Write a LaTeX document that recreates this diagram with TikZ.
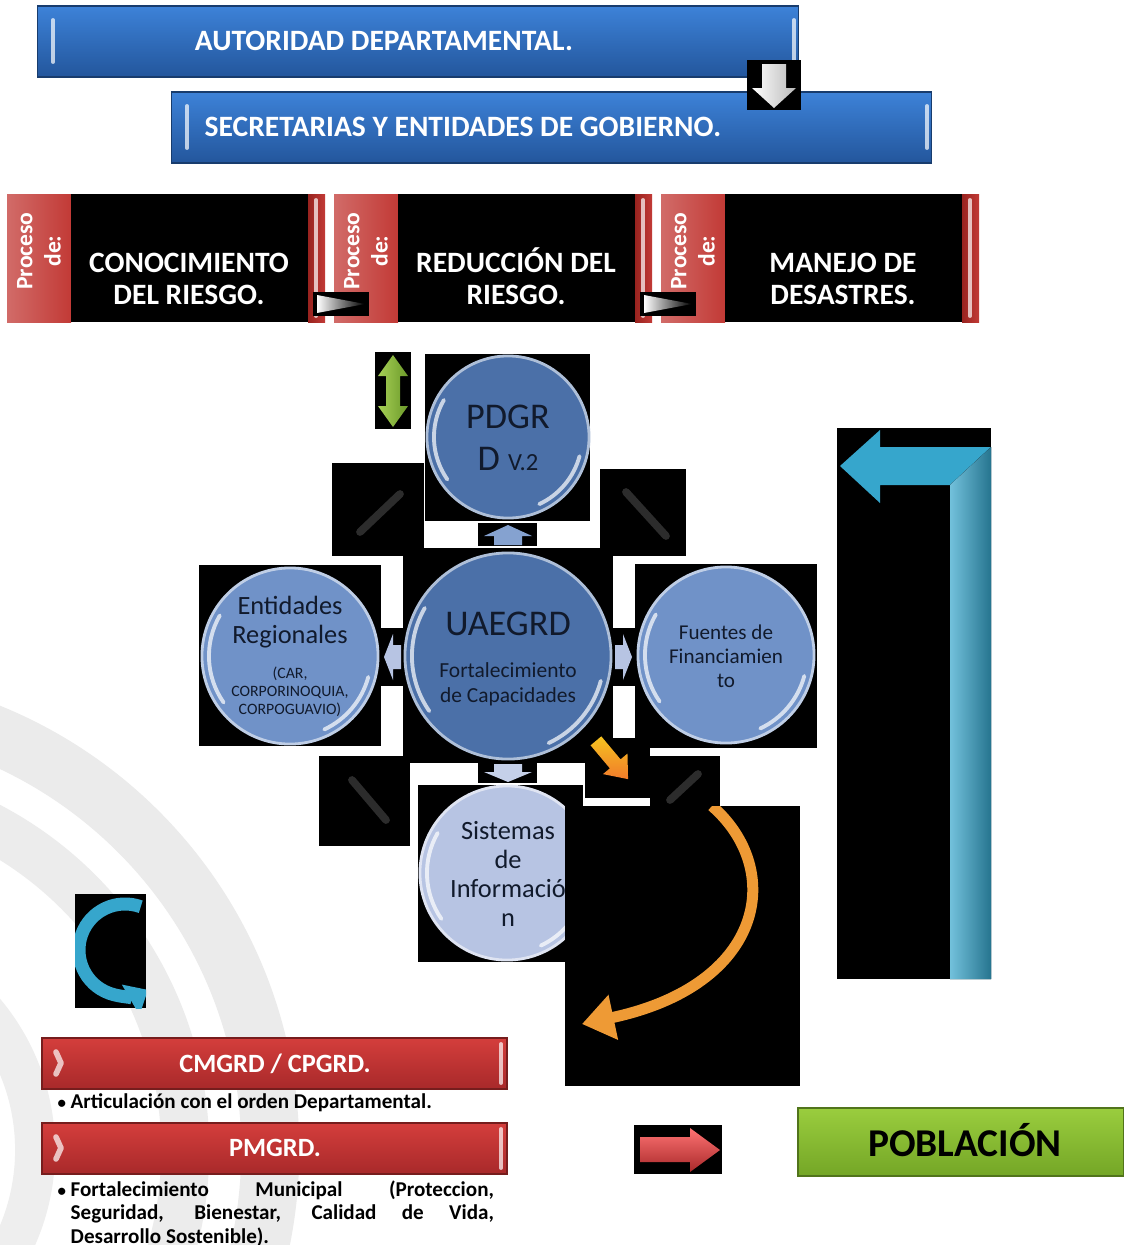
\documentclass[tikz,border=0pt]{standalone}
\usepackage{fontspec}
\setmainfont{Carlito}
\usetikzlibrary{arrows.meta,calc}

\definecolor{barblue}{HTML}{3D82D8}
\definecolor{barbluedark}{HTML}{23569C}
\definecolor{barred}{HTML}{D43E3C}
\definecolor{barreddark}{HTML}{A8292A}
\definecolor{procred}{HTML}{C23A36}
\definecolor{procreddark}{HTML}{98231F}
\definecolor{ballblue}{HTML}{4B70A8}
\definecolor{balllight}{HTML}{7092C8}
\definecolor{ballpale}{HTML}{B7C4E3}
\definecolor{inkblue}{HTML}{111A2C}
\definecolor{arrowcyan}{HTML}{36A6CC}
\definecolor{arroworange}{HTML}{EE9A35}
\definecolor{leafgreen}{HTML}{A6CF55}
\definecolor{leafgreendark}{HTML}{6C9A2A}
\definecolor{popgreen}{HTML}{9ACD3E}
\definecolor{popgreendark}{HTML}{74A626}

\tikzset{
  bluebar/.style={rectangle, inner sep=0, top color=barblue, bottom color=barbluedark, draw=barbluedark!70!black, line width=0.4pt},
  redbar/.style={rectangle, inner sep=0, top color=barred, bottom color=barreddark, draw=barreddark!70!black, line width=0.4pt},
  bartext/.style={text=white, inner sep=0, align=center, font=\bfseries\fontsize{8.4}{9.1}\selectfont},
  tagtext/.style={text=white, inner sep=0, align=center, rotate=90, font=\bfseries\fontsize{6.7}{8}\selectfont},
  ball/.style={circle, inner sep=0, fill=#1, draw=#1!45!white, line width=0.8pt},
  balltext/.style={text=inkblue, inner sep=0, align=center},
  glint/.style={white, opacity=0.7, line width=1.1pt, line cap=round},
  streak/.style={gray, line width=2.2pt, line cap=round, opacity=0.35},
  notetext/.style={inner sep=0, font=\bfseries\fontsize{6}{6.7}\selectfont},
}
\newcommand{\notebullet}{{\fontsize{4.8}{5}\selectfont\textbullet}}

\begin{document}
\begin{tikzpicture}[x=0.01cm, y=-0.01cm]
% Canvas
\fill[white] (0,0) rectangle (1124,1245);
\useasboundingbox (0,0) rectangle (1124,1245);

% Watermark
\begin{scope}
  \clip (0,0) rectangle (1124,1245);
  \draw[gray!16, line width=0.58cm] (-180,1150) circle[radius=4.5cm];
  \draw[gray!15, line width=0.48cm] (-180,1150) circle[radius=3.65cm];
  \draw[gray!13, line width=0.4cm] (-180,1150) circle[radius=2.15cm];
\end{scope}

% Header bars
\node[bluebar, minimum width=7.6cm, minimum height=0.71cm] (autoridad) at (418,41.5) {};
\node[bartext] (autoridad-t) at (384,41) {AUTORIDAD DEPARTAMENTAL.};
\draw[glint] (53,20) -- (53,62);
\draw[glint] (794,20) -- (794,62);
\node[bluebar, minimum width=7.59cm, minimum height=0.71cm] (secretarias) at (551.5,127.5) {};
\node[bartext, anchor=west] (secretarias-t) at (204,127) {SECRETARIAS Y ENTIDADES DE GOBIERNO.};
\draw[glint] (187,106) -- (187,148);
\draw[glint] (927,106) -- (927,148);
\fill[black] (747,60) rectangle (801,110);
\fill[left color=white, right color=gray!55] (762,64) -- (786,64) -- (786,88) -- (796,88) -- (774,108) -- (752,88) -- (762,88) -- cycle;

% Process blocks
\foreach \x/\yy/\p/\txt in {7/279/cono/{CONOCIMIENTO\\DEL RIESGO.}, 334/276/redu/{REDUCCIÓN DEL\\RIESGO.}, 661/279/mane/{MANEJO DE\\DESASTRES.}}{
  \fill[left color=procred!75!white, right color=procred] (\x,194) rectangle (\x+64,322);
  \fill[black] (\x+64,194) rectangle (\x+301,322);
  \fill[left color=procreddark, right color=procred] (\x+301,194) rectangle (\x+318,322);
  \draw[glint] (\x+309,200) -- (\x+309,316);
  \node[tagtext] (\p-tag) at (\x+32,251) {Proceso\\de:};
  \node[bartext] (\p) at (\x+182,\yy) {\txt};
}
\foreach \x in {313,640}{
  \fill[black] (\x,292) rectangle (\x+56,316);
  \fill[left color=white, right color=black] (\x+4,295) -- (\x+52,304) -- (\x+4,313) -- cycle;
}

% Black panels
\fill[black] (375,352) rectangle (411,429);
\fill[black] (425,354) rectangle (590,521);
\fill[black] (332,463) rectangle (424,556);
\fill[black] (600,469) rectangle (686,556);
\fill[black] (478,523) rectangle (537,546);
\fill[black] (403,548) rectangle (613,763);
\fill[black] (199,565) rectangle (381,746);
\fill[black] (381,628) rectangle (403,686);
\fill[black] (613,628) rectangle (635,686);
\fill[black] (635,564) rectangle (817,748);
\fill[black] (319,756) rectangle (410,846);
\fill[black] (478,763) rectangle (537,783);
\fill[black] (585,738) rectangle (650,798);
\fill[black] (650,756) rectangle (720,806);
\fill[black] (418,785) rectangle (583,962);
\fill[black] (837,428) rectangle (991,979);
\fill[black] (75,894) rectangle (146,1008);
\fill[black] (634,1125) rectangle (722,1174);

% Streaks
\draw[streak] (360,532) -- (400,494);
\draw[streak] (626,492) -- (666,536);
\draw[streak] (352,780) -- (386,820);
\draw[streak] (670,800) -- (698,774);

% Circles
\node[ball=ballblue, minimum size=1.62cm] (pdgrd) at (508,437) {};
\node[ball=ballblue, minimum size=2.06cm] (uaegrd) at (508,656) {};
\node[ball=balllight, minimum size=1.76cm] (entidades) at (290,656) {};
\node[ball=balllight, minimum size=1.76cm] (fuentes) at (726,655) {};
\node[ball=ballpale, minimum size=1.74cm] (sistemas) at (507,873) {};
\foreach \b/\r in {pdgrd/0.74cm, uaegrd/0.96cm, entidades/0.81cm, fuentes/0.81cm, sistemas/0.80cm}{
  \draw[glint] ($(\b)+(150:\r)$) arc[start angle=150, end angle=215, radius=\r];
  \draw[glint] ($(\b)+(295:\r)$) arc[start angle=295, end angle=345, radius=\r];
}

% Labels
\node[balltext, font=\fontsize{10.3}{12}\selectfont] (pdgrd-t) at (508,438) {PDGR\\D {\fontsize{7}{8}\selectfont V.2}};
\node[balltext, font=\fontsize{10.3}{12}\selectfont] (uaegrd-t1) at (508,624) {UAEGRD};
\node[balltext, font=\fontsize{6.1}{7.1}\selectfont] (uaegrd-t2) at (508,684) {Fortalecimiento\\de Capacidades};
\node[balltext, font=\fontsize{7.5}{8.25}\selectfont] (entidades-t1) at (290,622) {Entidades\\Regionales};
\node[balltext, font=\fontsize{4.5}{5.1}\selectfont] (entidades-t2) at (290,692) {(CAR,\\CORPORINOQUIA,\\CORPOGUAVIO)};
\node[balltext, font=\fontsize{6}{6.8}\selectfont] (fuentes-t) at (726,656) {Fuentes de\\Financiamien\\to};
\node[balltext, font=\fontsize{7.5}{8.25}\selectfont] (sistemas-t) at (508,874) {Sistemas\\de\\Informació\\n};

% Arrows
\fill[left color=leafgreen, right color=leafgreendark] (393,355) -- (408,376) -- (400,376) -- (400,406) -- (408,406) -- (393,427) -- (378,406) -- (386,406) -- (386,376) -- (378,376) -- cycle;
\fill[balllight!85!white] (508,525) -- (532,536) -- (522,536) -- (522,545) -- (494,545) -- (494,536) -- (484,536) -- cycle;
\fill[ballpale!80!white] (508,782) -- (532,772) -- (522,772) -- (522,764) -- (494,764) -- (494,772) -- (484,772) -- cycle;
\fill[ballpale] (384,657) -- (393,634) -- (393,645) -- (401,645) -- (401,669) -- (393,669) -- (393,680) -- cycle;
\fill[ballpale] (632,657) -- (623,634) -- (623,645) -- (615,645) -- (615,669) -- (623,669) -- (623,680) -- cycle;
\begin{scope}[shift={(612,760)}, rotate=-50]
  \fill[top color=arroworange!60!yellow, bottom color=arroworange!80!red] (-25,-7) -- (5,-7) -- (5,-16) -- (25,0) -- (5,16) -- (5,7) -- (-25,7) -- cycle;
\end{scope}

% Swirl panel
\fill[black] (565,806) rectangle (800,1086);
\begin{scope}
  \clip (565,806) rectangle (800,1086);
  \draw[arroworange, line width=0.11cm, -{Triangle[width=0.44cm,length=0.32cm]}] (712,806) .. controls (785,870) and (765,985) .. (582,1024);
\end{scope}

% Return arrow
\fill[arrowcyan] (991,979) -- (991,447) -- (880,447) -- (880,430) -- (840,466) -- (880,503) -- (880,485) -- (950,485) -- (950,979) -- cycle;
\fill[left color=arrowcyan!70!white, right color=arrowcyan!70!black] (950,485) -- (991,447) -- (991,979) -- (950,979) -- cycle;
\begin{scope}
  \clip (75,894) rectangle (146,1008);
  \coordinate (curl) at (125,950);
  \draw[arrowcyan, line width=0.13cm, -{Triangle[width=0.34cm,length=0.2cm]}] ($(curl)+(70:0.46cm)$) arc[start angle=70, end angle=300, radius=0.46cm];
\end{scope}

% Municipal bars
\node[redbar, minimum width=4.65cm, minimum height=0.51cm] (cmgrd) at (274.5,1063.5) {};
\node[bartext, font=\bfseries\fontsize{7.5}{9}\selectfont] (cmgrd-t) at (275,1064) {CMGRD / CPGRD.};
\node[notetext, anchor=west] (articulacion) at (57,1103) {\makebox[0.13cm][l]{\notebullet}Articulación con el orden Departamental.};
\node[redbar, minimum width=4.65cm, minimum height=0.51cm] (pmgrd) at (274.5,1148.5) {};
\node[bartext, font=\bfseries\fontsize{7.5}{9}\selectfont] (pmgrd-t) at (275,1148) {PMGRD.};
\foreach \y in {1038,1123}{
  \draw[glint, line width=1.6pt, line join=round] (56,\y+14) -- (61,\y+25) -- (56,\y+36);
  \draw[glint] (501,\y+6) -- (501,\y+45);
}
\node[notetext, anchor=north west] (fortalecimiento) at (57,1180)
  {\makebox[0.13cm][l]{\notebullet}\parbox[t]{4.23cm}{Fortalecimiento Municipal (Proteccion,\linebreak Seguridad, Bienestar, Calidad de Vida,\linebreak Desarrollo Sostenible).}};

% Population
\fill[top color=red!55!white, bottom color=barreddark] (640,1137) -- (690,1137) -- (690,1128) -- (720,1150) -- (690,1172) -- (690,1162) -- (640,1162) -- cycle;
\node[rectangle, inner sep=0, top color=popgreen, bottom color=popgreendark, draw=popgreendark!70!black, line width=0.4pt, minimum width=3.26cm, minimum height=0.68cm] (poblacion) at (961,1142) {};
\node[inner sep=0, font=\bfseries\fontsize{11.2}{13}\selectfont] (poblacion-t) at (965,1140) {POBLACIÓN};
\end{tikzpicture}
\end{document}
